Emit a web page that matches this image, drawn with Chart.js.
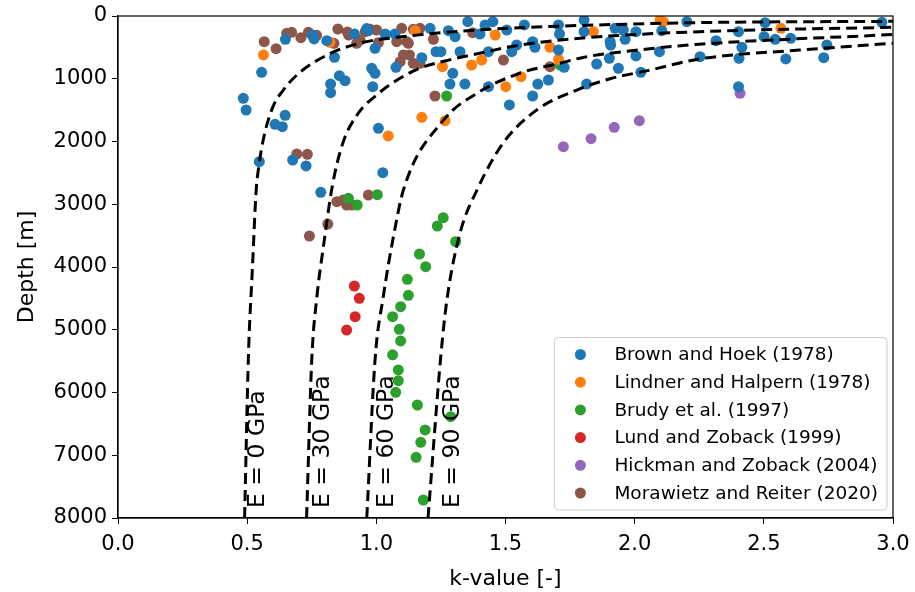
<!DOCTYPE html>
<html>
<head>
<meta charset="utf-8">
<script src="https://cdn.jsdelivr.net/npm/chart.js@4.4.1/dist/chart.umd.min.js"></script>
<style>
    html, body { margin: 0; padding: 0; background: #fff; }
</style>
</head>
<body>
<canvas id="myChart" width="915" height="592"></canvas>
<script>
// [k-value, depth in m]
const brownHoek = [
    [0.556, 898], [0.648, 371], [0.752, 303], [0.759, 366], [0.808, 394], [0.838, 659],
    [0.915, 287], [0.969, 234], [0.857, 951], [0.879, 1031], [0.823, 1084], [0.823, 1222],
    [0.485, 1312], [0.496, 1498], [0.647, 1583], [0.608, 1726], [0.636, 1764], [0.547, 2322],
    [0.676, 2295], [0.728, 2390], [0.785, 2810], [1.034, 287], [0.995, 515], [1.072, 287],
    [1.208, 196], [1.176, 664], [0.982, 834], [0.995, 913], [0.986, 1126], [1.076, 818],
    [1.231, 569], [1.250, 569], [1.279, 234], [1.305, 330], [1.324, 569], [1.296, 913],
    [1.285, 1084], [1.343, 1084], [1.354, 90], [1.401, 287], [1.421, 143], [1.451, 90],
    [1.434, 569], [1.505, 223], [1.524, 569], [1.543, 462], [1.573, 143], [1.605, 410],
    [1.614, 499], [1.705, 542], [1.727, 818], [1.705, 143], [1.709, 287], [1.804, 64],
    [1.804, 250], [1.905, 410], [1.907, 462], [1.902, 674], [1.853, 765], [1.937, 834],
    [1.434, 1126], [1.515, 1418], [1.605, 1275], [1.625, 1084], [1.666, 1020], [1.814, 1084],
    [1.008, 1790], [1.025, 2497], [2.202, 90], [1.924, 196], [1.956, 223], [2.005, 250],
    [1.963, 371], [2.105, 234], [2.005, 637], [2.096, 569], [2.024, 898], [2.253, 648],
    [2.315, 394], [2.402, 250], [2.415, 499], [2.404, 674], [2.505, 106], [2.501, 330],
    [2.544, 371], [2.604, 355], [2.585, 685], [2.744, 462], [2.732, 664], [2.957, 100],
    [2.402, 1126], [0.963, 200]
];
const lindnerHalpern = [
    [0.563, 621], [0.821, 419], [1.150, 234], [1.256, 807], [1.369, 781], [1.408, 701],
    [1.460, 303], [1.672, 499], [1.705, 690], [1.840, 250], [1.560, 967], [1.501, 1126],
    [1.176, 1615], [1.266, 1668], [1.046, 1912], [2.098, 64], [2.111, 90], [2.566, 196]
];
const brudy = [
    [1.711, 781], [1.272, 1275], [0.892, 2906], [0.926, 3012], [1.004, 2847], [1.259, 3214],
    [1.236, 3347], [1.307, 3596], [1.167, 3793], [1.191, 3995], [1.120, 4196], [1.124, 4451],
    [1.094, 4632], [1.063, 4792], [1.089, 4993], [1.094, 5179], [1.063, 5400], [1.085, 5641],
    [1.085, 5812], [1.075, 5997], [1.159, 6199], [1.288, 6385], [1.189, 6597], [1.172, 6794],
    [1.154, 7033], [1.182, 7713]
];
const lundZoback = [[0.915, 4303], [0.934, 4499], [0.918, 4792], [0.885, 5004]];
const hickmanZoback = [[1.724, 2083], [1.831, 1955], [1.921, 1774], [2.018, 1668], [2.408, 1232]];
const morawietzReiter = [
    [0.566, 410], [0.612, 521], [0.653, 276], [0.672, 260], [0.708, 345], [0.737, 260],
    [0.769, 308], [0.836, 435], [0.851, 207], [0.888, 255], [0.893, 303], [0.924, 435],
    [0.937, 383], [0.957, 250], [0.692, 2199], [0.733, 2204], [0.976, 212], [1.001, 223],
    [1.008, 425], [1.079, 410], [1.098, 196], [1.118, 410], [1.124, 435], [1.143, 212],
    [1.169, 196], [1.221, 371], [1.105, 621], [1.128, 621], [1.092, 728], [1.143, 754],
    [1.169, 754], [1.227, 1275], [1.373, 266], [1.492, 701], [1.672, 807], [0.847, 2959],
    [0.872, 2932], [0.885, 3012], [0.905, 3012], [0.969, 2853], [0.812, 3315], [0.741, 3506]
];

// dashed model curves
const curveE0 = [
    [0.49, 8000], [0.505, 5400], [0.52, 4050], [0.535, 2770], [0.545, 2400], [0.565, 1920],
    [0.60, 1445], [0.64, 1180], [0.70, 913], [0.82, 600], [0.95, 419], [1.08, 340],
    [1.27, 260], [1.53, 191], [1.80, 150], [2.25, 105], [3.0, 85]
];
const curveE30 = [
    [0.73, 8000], [0.75, 5480], [0.77, 4470], [0.795, 3680], [0.83, 2700], [0.87, 2030],
    [0.93, 1550], [1.01, 1230], [1.07, 1047], [1.16, 845], [1.27, 712], [1.40, 595],
    [1.54, 473], [1.80, 351], [2.25, 250], [3.0, 180]
];
const curveE60 = [
    [0.963, 8000], [0.995, 5480], [1.027, 4470], [1.066, 3520], [1.105, 2770], [1.26, 1660],
    [1.39, 1230], [1.56, 905], [1.71, 754], [1.80, 660], [2.05, 526], [2.25, 450], [3.0, 295]
];
const curveE90 = [
    [1.20, 8000], [1.25, 5400], [1.273, 4530], [1.324, 3460], [1.39, 2770], [1.49, 2030],
    [1.62, 1500], [1.776, 1180], [1.905, 1000], [2.05, 871], [2.25, 685], [2.64, 542], [3.0, 435]
];
const curveNames = ["E = 0 GPa", "E = 30 GPa", "E = 60 GPa", "E = 90 GPa"];
const curveLabelK = [0.542, 0.792, 1.041, 1.295];
const curveLabelDepth = 7840;

const sourceNames = [
    "Brown and Hoek (1978)",
    "Lindner and Halpern (1978)",
    "Brudy et al. (1997)",
    "Lund and Zoback (1999)",
    "Hickman and Zoback (2004)",
    "Morawietz and Reiter (2020)"
];
const sourceData = [brownHoek, lindnerHalpern, brudy, lundZoback, hickmanZoback, morawietzReiter];
const sourceColors = ["#1f77b4", "#ff7f0e", "#2ca02c", "#d62728", "#9467bd", "#8c564b"];

const xTicks = [0, 0.5, 1, 1.5, 2, 2.5, 3];
const yTicks = [0, 1000, 2000, 3000, 4000, 5000, 6000, 7000, 8000];

const FONT = '"DejaVu Sans", sans-serif';
Chart.defaults.font.family = FONT;
Chart.defaults.color = "#000";

function toPoints(pairs) {
    return pairs.map(p => ({ x: p[0], y: p[1] }));
}

const datasets = [];
[curveE0, curveE30, curveE60, curveE90].forEach((c, i) => {
    datasets.push({
        label: curveNames[i],
        data: toPoints(c),
        showLine: true,
        isCurve: true,
        borderColor: "#000",
        borderWidth: 3,
        borderDash: [11, 6],
        pointRadius: 0,
        cubicInterpolationMode: "monotone",
        clip: 0,
        order: 0
    });
});
sourceData.forEach((d, i) => {
    datasets.push({
        label: sourceNames[i],
        data: toPoints(d),
        showLine: false,
        backgroundColor: sourceColors[i],
        borderColor: sourceColors[i],
        pointRadius: 5.5,
        pointBorderWidth: 0,
        clip: 0,
        order: 1
    });
});

// box round the plot, like matplotlib spines
const frame = {
    id: "frame",
    afterDatasetsDraw(chart) {
        const { ctx, chartArea: a } = chart;
        ctx.save();
        ctx.strokeStyle = "#000";
        ctx.lineWidth = 1.2;
        ctx.strokeRect(a.left, a.top, a.right - a.left, a.bottom - a.top);
        ctx.restore();
    }
};

const curveLabels = {
    id: "curveLabels",
    afterDatasetsDraw(chart) {
        const { ctx, scales } = chart;
        ctx.save();
        ctx.font = "23.5px " + FONT;
        ctx.fillStyle = "#000";
        ctx.textAlign = "left";
        ctx.textBaseline = "middle";
        curveNames.forEach((name, i) => {
            const px = scales.x.getPixelForValue(curveLabelK[i]);
            const py = scales.y.getPixelForValue(curveLabelDepth);
            ctx.save();
            ctx.translate(px, py);
            ctx.rotate(-Math.PI / 2);
            ctx.fillText(name, 0, 0);
            ctx.restore();
        });
        ctx.restore();
    }
};

const insideLegend = {
    id: "insideLegend",
    afterDraw(chart) {
        const { ctx, chartArea: a } = chart;
        const items = chart.data.datasets.filter(ds => !ds.isCurve);
        ctx.save();
        ctx.font = "18.5px " + FONT;
        const maxW = Math.max(...items.map(ds => ctx.measureText(ds.label).width));
        const rowH = 27.7;
        const w = 60 + maxW + 9;
        const h = 34 + rowH * (items.length - 1);
        const right = a.right - 6;
        const bottom = a.bottom - 8;
        const left = right - w;
        const top = bottom - h;

        ctx.beginPath();
        ctx.roundRect(left, top, w, h, 4);
        ctx.fillStyle = "rgba(255,255,255,0.8)";
        ctx.fill();
        ctx.strokeStyle = "#cccccc";
        ctx.lineWidth = 1;
        ctx.stroke();

        ctx.textAlign = "left";
        ctx.textBaseline = "middle";
        items.forEach((ds, i) => {
            const cy = top + 17 + i * rowH;
            ctx.beginPath();
            ctx.arc(left + 26, cy, 5.5, 0, Math.PI * 2);
            ctx.fillStyle = ds.backgroundColor;
            ctx.fill();
            ctx.fillStyle = "#000";
            ctx.fillText(ds.label, left + 60, cy + 1);
        });
        ctx.restore();
    }
};

const ctx = document.getElementById("myChart").getContext("2d");
const myChart = new Chart(ctx, {
    type: "scatter",
    data: { datasets: datasets },
    options: {
        responsive: false,
        animation: false,
        events: [],
        layout: { padding: { top: 16, right: 22, left: 0, bottom: 0 } },
        plugins: {
            legend: { display: false },
            tooltip: { enabled: false }
        },
        scales: {
            x: {
                type: "linear",
                min: 0,
                max: 3,
                afterBuildTicks: (scale) => {
                    scale.ticks = xTicks.map(v => ({ value: v }));
                },
                afterFit: (scale) => {
                    scale.height = 74;
                    scale.paddingLeft = 0;
                    scale.paddingRight = 0;
                },
                ticks: {
                    font: { size: 21 },
                    padding: 8,
                    maxRotation: 0,
                    callback: (v) => Number(v).toFixed(1)
                },
                grid: {
                    drawOnChartArea: false,
                    drawTicks: true,
                    tickLength: 6,
                    color: "#000"
                },
                border: { display: true, color: "#000", width: 1.2 },
                title: {
                    display: true,
                    text: "k-value [-]",
                    font: { size: 22 },
                    padding: { top: 0, bottom: 0 }
                }
            },
            y: {
                type: "linear",
                min: 0,
                max: 8000,
                reverse: true,
                afterBuildTicks: (scale) => {
                    scale.ticks = yTicks.map(v => ({ value: v }));
                },
                afterFit: (scale) => {
                    scale.width = 118;
                    scale.paddingTop = 0;
                    scale.paddingBottom = 0;
                },
                ticks: {
                    font: { size: 21 },
                    padding: 5,
                    callback: (v) => String(v)
                },
                grid: {
                    drawOnChartArea: false,
                    drawTicks: true,
                    tickLength: 6,
                    color: "#000"
                },
                border: { display: true, color: "#000", width: 1.2 },
                title: {
                    display: true,
                    text: "Depth [m]",
                    font: { size: 22 },
                    padding: { top: 14, bottom: 4 }
                }
            }
        }
    },
    plugins: [frame, curveLabels, insideLegend]
});
</script>
</body>
</html>
